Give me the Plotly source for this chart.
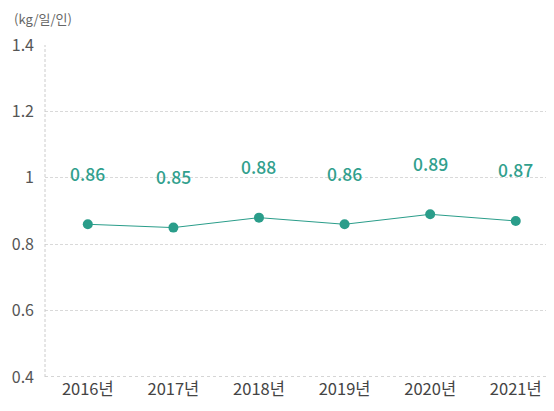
import plotly.graph_objects as go

years = ["2016년", "2017년", "2018년", "2019년", "2020년", "2021년"]
values = [0.86, 0.85, 0.88, 0.86, 0.89, 0.87]
labels = ["0.86", "0.85", "0.88", "0.86", "0.89", "0.87"]
yticks = [0.4, 0.6, 0.8, 1.0, 1.2, 1.4]
yticktext = ["0.4", "0.6", "0.8", "1", "1.2", "1.4"]

teal = "#2a9d8a"
font = "Noto Sans CJK KR"

fig = go.Figure()
fig.add_trace(go.Scatter(
    x=years, y=values, mode="lines+markers",
    line=dict(color=teal, width=1),
    marker=dict(color=teal, size=10),
    hoverinfo="skip",
))
for x, y, t in zip(years, values, labels):
    fig.add_annotation(x=x, y=y, text=t, showarrow=False, yshift=51,
                       font=dict(family=font, size=17.5, color="#31a08d", weight=500))

fig.add_annotation(xref="paper", yref="paper", x=-0.065, y=1.045, text="(kg/일/인)",
                   showarrow=False, xanchor="left", yanchor="bottom",
                   font=dict(family=font, size=13, color="#666"))

fig.update_layout(
    width=546, height=403,
    margin=dict(l=37, r=4, t=37, b=34, autoexpand=False),
    plot_bgcolor="white", paper_bgcolor="white",
    showlegend=False,
    font=dict(family=font),
)
fig.update_xaxes(
    type="category", range=[-0.5, 5.4],
    showgrid=False, zeroline=False, showline=False,
    tickfont=dict(size=16.5, color="#444"), ticks="",
)
fig.update_yaxes(
    range=[0.4, 1.4], tickvals=yticks, ticktext=yticktext,
    showgrid=True, gridcolor="#d9d9d9", griddash="3px,2px", gridwidth=1,
    zeroline=False, showline=False,
    tickfont=dict(size=16, color="#555"), ticks="", ticklabelstandoff=10,
)
fig.add_shape(type="line", xref="paper", yref="y", x0=0, x1=1, y0=0.4, y1=0.4,
              line=dict(color="#aaaaaa", width=1, dash="dot"))
fig.add_shape(type="line", xref="paper", yref="paper", x0=0, x1=0, y0=0, y1=1,
              line=dict(color="#cccccc", width=1, dash="3px,2px"))

fig.write_html("out.html")
